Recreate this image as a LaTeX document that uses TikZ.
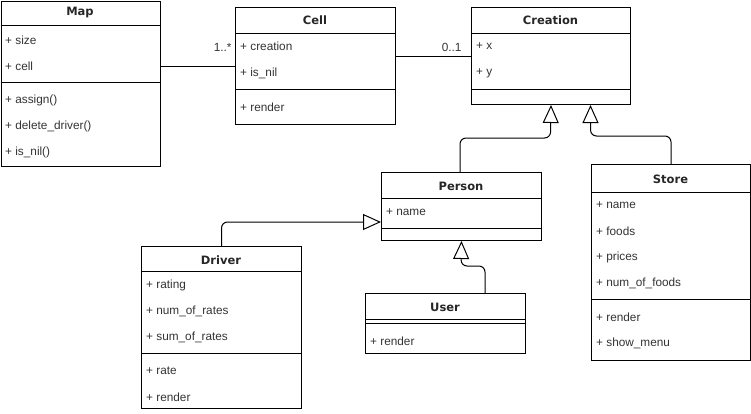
\documentclass[tikz,border=0pt]{standalone}
\usepackage{fontspec}
\setmainfont{Liberation Sans}
\newfontfamily\titlefont{DejaVu Sans}
\usetikzlibrary{arrows.meta}

\tikzset{
  classbox/.style={draw, line width=1pt, inner sep=0pt, anchor=north west},
  title/.style={font=\titlefont\fontsize{11.5}{13}\selectfont\bfseries, text=black!85, inner sep=0pt},
  attr/.style={font=\fontsize{11.8}{13}\selectfont, text=black!80, anchor=west, inner sep=0pt},
  mult/.style={font=\fontsize{11.8}{13}\selectfont, text=black!80, inner sep=0pt},
  sep/.style={line width=1pt},
  assoc/.style={line width=1pt},
  inherit/.style={line width=1pt, rounded corners=6pt, -{Triangle[open, width=16pt, length=18pt, line width=1pt]}},
}

\begin{document}
\begin{tikzpicture}[x=1pt, y=-1pt]
\useasboundingbox (0,0) rectangle (751,413);
%% Map
\node[classbox, minimum width=159, minimum height=165] (map) at (0.5,0.5) {};
\node[title] (map-t) at (80,13) {Map};
\draw[sep] (map.west |- 0,25) -- (map.east |- 0,25);
\node[attr] (map-size) at (5,40) {+ size};
\node[attr] (map-cell) at (5,66) {+ cell};
\draw[sep] (map.west |- 0,82) -- (map.east |- 0,82);
\node[attr] (map-assign) at (5,100) {+ assign()};
\node[attr] (map-del) at (5,126) {+ delete\_driver()};
\node[attr] (map-nil) at (5,152) {+ is\_nil()};
%% Cell
\node[classbox, minimum width=160, minimum height=117] (cell) at (235,7) {};
\node[title] (cell-t) at (315,20) {Cell};
\draw[sep] (cell.west |- 0,33) -- (cell.east |- 0,33);
\node[attr] (cell-creation) at (240,46) {+ creation};
\node[attr] (cell-nil) at (240,73) {+ is\_nil};
\draw[sep] (cell.west |- 0,89) -- (cell.east |- 0,89);
\node[attr] (cell-render) at (240,107) {+ render};
%% Creation
\node[classbox, minimum width=159, minimum height=97] (creation) at (471,7) {};
\node[title] (creation-t) at (550.5,20) {Creation};
\draw[sep] (creation.west |- 0,33) -- (creation.east |- 0,33);
\node[attr] (creation-x) at (476,46) {+ x};
\node[attr] (creation-y) at (476,73) {+ y};
\draw[sep] (creation.west |- 0,89) -- (creation.east |- 0,89);
%% Person
\node[classbox, minimum width=160, minimum height=68] (person) at (381,172) {};
\node[title] (person-t) at (461,186) {Person};
\draw[sep] (person.west |- 0,198) -- (person.east |- 0,198);
\node[attr] (person-name) at (386,212) {+ name};
\draw[sep] (person.west |- 0,228) -- (person.east |- 0,228);
%% Store
\node[classbox, minimum width=159, minimum height=196] (store) at (591,164) {};
\node[title] (store-t) at (670.5,179) {Store};
\draw[sep] (store.west |- 0,192) -- (store.east |- 0,192);
\node[attr] (store-name) at (596,205) {+ name};
\node[attr] (store-foods) at (596,231) {+ foods};
\node[attr] (store-prices) at (596,257) {+ prices};
\node[attr] (store-num) at (596,283) {+ num\_of\_foods};
\draw[sep] (store.west |- 0,299) -- (store.east |- 0,299);
\node[attr] (store-render) at (596,317) {+ render};
\node[attr] (store-menu) at (596,343) {+ show\_menu};
%% Driver
\node[classbox, minimum width=160, minimum height=162] (driver) at (141,246) {};
\node[title] (driver-t) at (221,260) {Driver};
\draw[sep] (driver.west |- 0,271) -- (driver.east |- 0,271);
\node[attr] (driver-rating) at (146,285) {+ rating};
\node[attr] (driver-num) at (146,311) {+ num\_of\_rates};
\node[attr] (driver-sum) at (146,337) {+ sum\_of\_rates};
\draw[sep] (driver.west |- 0,353) -- (driver.east |- 0,353);
\node[attr] (driver-rate) at (146,371) {+ rate};
\node[attr] (driver-render) at (146,397) {+ render};
%% User
\node[classbox, minimum width=160, minimum height=60] (user) at (365,293) {};
\node[title] (user-t) at (445,307) {User};
\draw[sep] (user.west |- 0,319) -- (user.east |- 0,319);
\draw[sep] (user.west |- 0,323) -- (user.east |- 0,323);
\node[attr] (user-render) at (370,341) {+ render};
%% associations
\draw[assoc] (map.east |- map-cell) -- (cell.west |- map-cell)
  node[mult, pos=1, anchor=east, xshift=-3, yshift=19] {1..*};
\draw[assoc] (cell.east |- 0,56) -- (creation.west |- 0,56)
  node[mult, pos=1, anchor=east, xshift=-9, yshift=9] {0..1};
%% generalizations
\draw[inherit] (person.north -| 460,0) |- (550.5,138) -- (creation.south);
\draw[inherit] (store.north) |- (590.5,136) -- (creation.south -| 590.5,0);
\draw[inherit] (driver.north) |- (person.west |- 0,222);
\draw[inherit] (user.north -| 485,0) |- (461,266) -- (person.south);
\end{tikzpicture}
\end{document}
